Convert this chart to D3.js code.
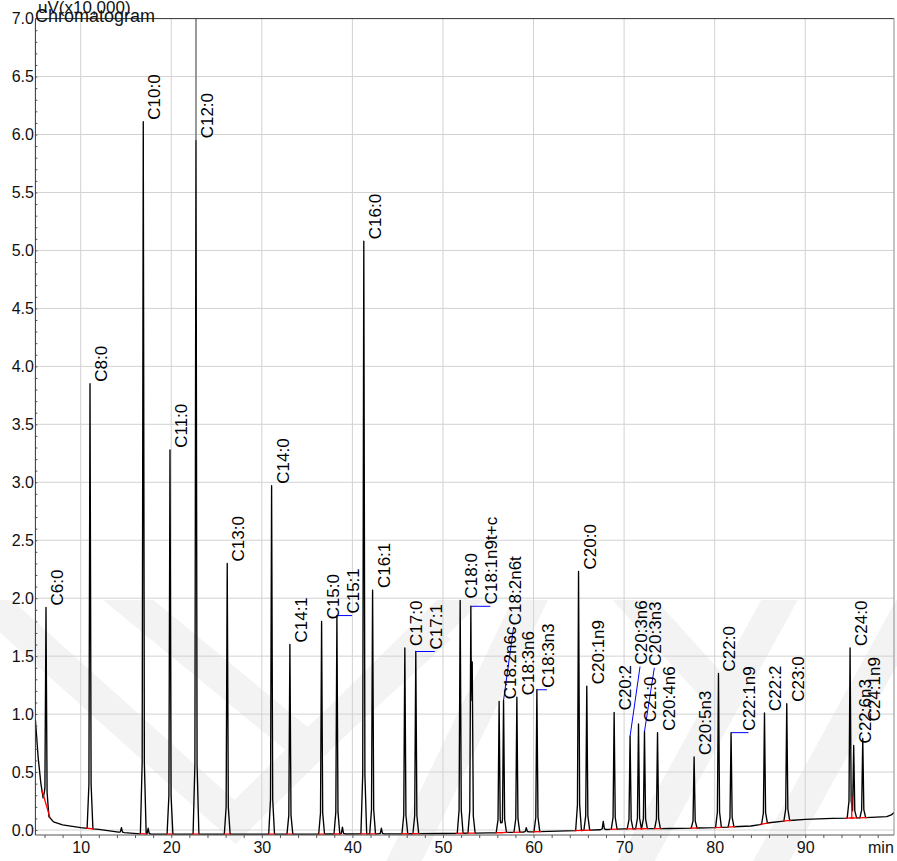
<!DOCTYPE html>
<html>
<head>
<meta charset="utf-8">
<script src="https://cdnjs.cloudflare.com/ajax/libs/d3/7.8.5/d3.min.js"></script>
<style>
body { margin: 0; background: #fff; }
text { font-family: "Liberation Sans", Arial, sans-serif; }
</style>
</head>
<body>
<div id="chart"></div>
<script>
// peak names, retention time (min) and apex signal (uV x10,000)
var peakNames = ['C6:0','C8:0','C10:0','C11:0','C12:0','C13:0','C14:0','C14:1','C15:0','C15:1',
	'C16:0','C16:1','C17:0','C17:1','C18:0','C18:1n9t+c','C18:2n6c','C18:2n6t','C18:3n6','C18:3n3',
	'C20:0','C20:1n9','C20:2','C20:3n6','C21:0','C20:3n3','C20:4n6','C20:5n3','C22:0','C22:1n9',
	'C22:2','C23:0','C24:0','C22:6n3','C24:1n9'];
var peakRt = [6.17, 11.03, 16.91, 19.86, 22.73, 26.18, 31.08, 33.10, 36.60, 38.29,
	41.26, 42.23, 45.79, 47.00, 51.90, 53.08, 56.20, 56.69, 58.16, 60.37,
	64.97, 65.88, 68.90, 70.66, 71.59, 72.25, 73.69, 77.73, 80.42, 81.81,
	85.50, 87.96, 94.95, 95.35, 96.35];
var peakApex = [1.92, 3.85, 6.11, 3.28, 5.95, 2.30, 2.97, 1.60, 1.80, 1.85,
	5.08, 2.07, 1.57, 1.54, 1.98, 1.93, 1.11, 1.12, 1.145, 1.21,
	2.23, 1.24, 1.015, 0.81, 0.915, 0.85, 0.84, 0.63, 1.35, 0.84,
	1.01, 1.09, 1.57, 0.73, 0.79];

// small unlabeled peaks
var minorRt = [14.5, 17.45, 38.9, 43.2, 53.23, 59.2, 67.7];
var minorApex = [-0.01, -0.015, -0.005, -0.015, 1.42, -0.01, 0.045];

// drifting baseline
var baseRt = [5.0, 5.3, 5.6, 6.0, 6.5, 7.0, 8.0, 10.0, 12.0, 14.3, 17.0, 25.0, 35.0, 45.0, 50.0,
	55.0, 60.0, 65.0, 70.0, 75.0, 80.0, 84.0, 85.0, 86.0, 88.0, 90.0, 93.0, 96.0, 99.0, 99.5, 99.8];
var baseVal = [0.95, 0.63, 0.405, 0.20, 0.115, 0.07, 0.045, 0.02, 0.005, -0.02, -0.035, -0.035, -0.035, -0.033, -0.03,
	-0.025, -0.015, -0.005, 0.01, 0.013, 0.02, 0.035, 0.047, 0.063, 0.08, 0.092, 0.10, 0.105, 0.115, 0.13, 0.15];

// labels moved off their peak (end of the blue leader)
var leaderNames = ['C15:1','C17:1','C18:1n9t+c','C18:2n6t','C18:3n3','C20:3n6','C20:3n3','C22:1n9'];
var leaderRt = [39.95, 49.10, 55.23, 57.80, 61.48, 71.76, 73.34, 83.73];
var leaderVal = [1.85, 1.54, 1.93, 1.75, 1.21, 1.41, 1.40, 0.84];
var liftNames = ['C24:1n9'];
var liftVal = [0.92];
var offScale = ['C12:0'];
var dropRt = [95.14];
var dropVal = [0.29];

var xTicks = [10, 20, 30, 40, 50, 60, 70, 80, 90];
var yTicks = [0.0, 0.5, 1.0, 1.5, 2.0, 2.5, 3.0, 3.5, 4.0, 4.5, 5.0, 5.5, 6.0, 6.5, 7.0];

var width = 897, height = 861;
var pLeft = 35.4, pRight = 894, pTop = 18.6, pBottom = 835;

var svg = d3.select('#chart').append('svg')
	.attr('width', width)
	.attr('height', height);

var x = d3.scaleLinear().domain([5, 99.8]).range([pLeft, pRight]);
var y = d3.scaleLinear().domain([-0.043, 7]).range([pBottom, pTop]);
var base = d3.scaleLinear().domain(baseRt).range(baseVal).clamp(true);

// faint watermark chevrons in the lower part
svg.append('clipPath').attr('id', 'wmclip')
	.append('rect').attr('x', 0).attr('y', 600).attr('width', width).attr('height', 261);
var wm = svg.append('g').attr('clip-path', 'url(#wmclip)');
var wmLines = [
	[[-40, 575], [235, 822], [470, 590]],
	[[110, 585], [308, 748], [440, 628]],
	[[395, 880], [535, 590]],
	[[615, 900], [785, 590]],
	[[750, 900], [920, 590]],
	[[625, 590], [725, 700]]
];
wm.selectAll('path')
	.data(wmLines)
	.enter()
	.append('path')
	.attr('d', d3.line())
	.attr('fill', 'none')
	.attr('stroke', '#f3f3f3')
	.attr('stroke-width', 32);

// grid
var grid = svg.append('g');
grid.selectAll('.vg')
	.data(xTicks)
	.enter()
	.append('line')
	.attr('x1', function(d){ return x(d); })
	.attr('x2', function(d){ return x(d); })
	.attr('y1', pTop)
	.attr('y2', pBottom)
	.attr('stroke', '#d2d2d2');
grid.selectAll('.hg')
	.data(yTicks.slice(0, -1))
	.enter()
	.append('line')
	.attr('x1', pLeft)
	.attr('x2', pRight)
	.attr('y1', function(d){ return y(d); })
	.attr('y2', function(d){ return y(d); })
	.attr('stroke', '#d2d2d2');

// build the trace from baseline + peaks
var allPeaks = [];
for (var i = 0; i < peakRt.length; i++) allPeaks.push({rt: peakRt[i], apex: peakApex[i]});
for (var j = 0; j < minorRt.length; j++) allPeaks.push({rt: minorRt[j], apex: minorApex[j] + 0.03});
allPeaks.forEach(function(p){ p.h = p.apex - base(p.rt); });

var hw = 0.32, knee = 0.12;
function shape(p, t){
	var a = Math.abs(t - p.rt);
	if (a >= hw) return 0;
	if (a >= knee) return 0.1 * p.h * (hw - a) / (hw - knee);
	return 0.1 * p.h + 0.9 * p.h * (knee - a) / knee;
}
var ts = baseRt.slice();
allPeaks.forEach(function(p){
	ts.push(p.rt - hw, p.rt - knee, p.rt, p.rt + knee, p.rt + hw);
});
ts = ts.filter(function(t){ return t >= 5 && t <= 99.8; }).sort(d3.ascending);
var trace = ts.map(function(t){
	return [t, base(t) + d3.max(allPeaks, function(p){ return shape(p, t); })];
});

svg.append('clipPath').attr('id', 'plotclip')
	.append('rect').attr('x', pLeft).attr('y', pTop).attr('width', pRight - pLeft).attr('height', pBottom - pTop);

var line = d3.line()
	.x(function(d){ return x(d[0]); })
	.y(function(d){ return y(d[1]); });

svg.append('path')
	.datum(trace)
	.attr('clip-path', 'url(#plotclip)')
	.attr('d', line)
	.attr('fill', 'none')
	.attr('stroke', '#000')
	.attr('stroke-width', 1.35)
	.attr('stroke-linejoin', 'round');

// integration baselines
svg.selectAll('.bl')
	.data(peakRt)
	.enter()
	.append('line')
	.attr('x1', function(d){ return x(d - 0.45); })
	.attr('x2', function(d){ return x(d + 0.45); })
	.attr('y1', function(d){ return y(base(d - 0.45)); })
	.attr('y2', function(d){ return y(base(d + 0.45)); })
	.attr('stroke', '#ff0000')
	.attr('stroke-width', 1.3);
svg.selectAll('.drop')
	.data(dropRt)
	.enter()
	.append('line')
	.attr('x1', function(d){ return x(d); })
	.attr('x2', function(d){ return x(d); })
	.attr('y1', function(d){ return y(base(d)); })
	.attr('y2', function(d, i){ return y(dropVal[i]); })
	.attr('stroke', '#ff0000')
	.attr('stroke-width', 1.3);

// off scale peak continues in grey
svg.selectAll('.off')
	.data(offScale)
	.enter()
	.append('line')
	.attr('x1', function(d){ return x(peakRt[peakNames.indexOf(d)]); })
	.attr('x2', function(d){ return x(peakRt[peakNames.indexOf(d)]); })
	.attr('y1', function(d){ return y(peakApex[peakNames.indexOf(d)]); })
	.attr('y2', pTop)
	.attr('stroke', '#808080')
	.attr('stroke-width', 1.6);

// labels
var labels = peakNames.map(function(n, i){
	var k = leaderNames.indexOf(n), l = liftNames.indexOf(n);
	var px = x(peakRt[i]), py = y(peakApex[i]);
	if (k >= 0) {
		var ex = x(leaderRt[k]), ey = y(leaderVal[k]);
		return {name: n, px: px, py: py, ex: ex, ey: ey, ax: ex + 7, ay: ey - 2, lead: true};
	}
	if (l >= 0) return {name: n, ax: px + 17, ay: y(liftVal[l]) - 2, lead: false};
	return {name: n, ax: px + 17, ay: py - 2, lead: false};
});

svg.selectAll('.lead')
	.data(labels.filter(function(d){ return d.lead; }))
	.enter()
	.append('line')
	.attr('x1', function(d){ return d.px; })
	.attr('y1', function(d){ return d.py; })
	.attr('x2', function(d){ return d.ex; })
	.attr('y2', function(d){ return d.ey; })
	.attr('stroke', '#0000ff')
	.attr('stroke-width', 1);

svg.selectAll('.plabel')
	.data(labels)
	.enter()
	.append('text')
	.attr('transform', function(d){ return 'translate(' + d.ax + ',' + d.ay + ') rotate(-90)'; })
	.attr('font-size', 17)
	.attr('fill', '#000')
	.text(function(d){ return d.name; });

// axes
var xAxis = svg.append('g')
	.attr('transform', 'translate(0,' + pBottom + ')')
	.call(d3.axisBottom(x).tickValues(xTicks).tickSize(0).tickPadding(7).tickFormat(d3.format('d')));
xAxis.select('.domain').remove();
xAxis.selectAll('text').attr('font-size', 16).attr('fill', '#111').attr('font-family', null);

var xMinor = svg.append('g')
	.attr('transform', 'translate(0,' + pBottom + ')')
	.call(d3.axisBottom(x).tickValues(d3.range(6, 100, 2)).tickSize(3).tickFormat(''));
xMinor.select('.domain').remove();
xMinor.selectAll('line').attr('stroke', '#555');

var yAxis = svg.append('g')
	.attr('transform', 'translate(' + pLeft + ',0)')
	.call(d3.axisLeft(y).tickValues(yTicks).tickSize(0).tickPadding(1.5).tickFormat(d3.format('.1f')));
yAxis.select('.domain').remove();
yAxis.selectAll('text').attr('font-size', 16).attr('fill', '#111').attr('font-family', null);

var yMinor = svg.append('g')
	.attr('transform', 'translate(' + pLeft + ',0)')
	.call(d3.axisLeft(y).tickValues(d3.range(0, 70, 1).map(function(v){ return v / 10; })).tickSize(-2).tickFormat(''));
yMinor.select('.domain').remove();
yMinor.selectAll('line').attr('stroke', '#555');

// frame
svg.append('line').attr('x1', pLeft).attr('x2', pRight).attr('y1', pTop).attr('y2', pTop).attr('stroke', '#333');
svg.append('line').attr('x1', pRight).attr('x2', pRight).attr('y1', pTop).attr('y2', pBottom).attr('stroke', '#8a8a8a');
svg.append('line').attr('x1', pLeft).attr('x2', pRight).attr('y1', pBottom).attr('y2', pBottom).attr('stroke', '#555');
svg.append('line').attr('x1', pLeft).attr('x2', pLeft).attr('y1', pTop).attr('y2', pBottom).attr('stroke', '#333');

svg.append('text').attr('x', 868).attr('y', 853).attr('font-size', 16).attr('fill', '#111').text('min');
svg.append('text').attr('x', 38).attr('y', 13).attr('font-size', 17).attr('fill', '#111').text('uV(x10,000)');
svg.append('text').attr('x', 35).attr('y', 22).attr('font-size', 18).attr('fill', '#111').text('Chromatogram');
</script>
</body>
</html>
